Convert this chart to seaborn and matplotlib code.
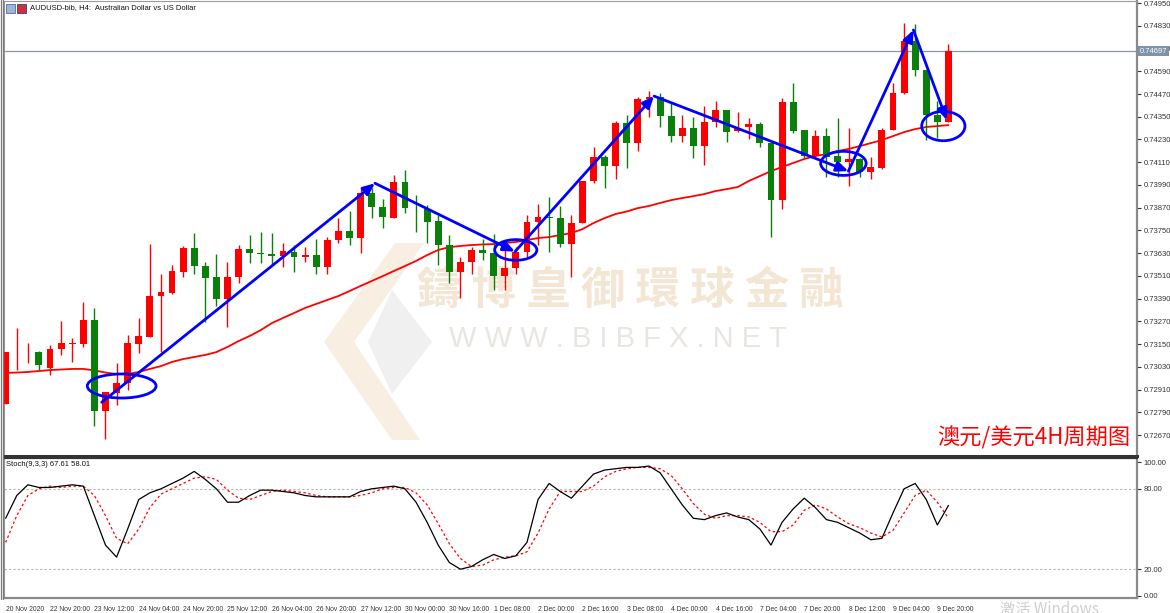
import matplotlib
matplotlib.use("Agg")
import matplotlib.pyplot as plt
import matplotlib.transforms as mtransforms
from matplotlib.patches import Ellipse, Polygon, Rectangle
from matplotlib.lines import Line2D
import numpy as np
import seaborn as sns

# AUDUSD H4 candles (oldest first)
opens = [
    0.72834, 0.73108, 0.73108, 0.73110, 0.73025, 0.73124, 0.73153, 0.73151, 0.73277, 0.72799,
    0.72894, 0.72946, 0.73151, 0.73189, 0.73405, 0.73421, 0.73532, 0.73659, 0.73564, 0.73506,
    0.73388, 0.73506, 0.73650, 0.73631, 0.73625, 0.73615, 0.73638, 0.73611, 0.73620, 0.73558,
    0.73699, 0.73747, 0.73708, 0.73949, 0.73875, 0.73814, 0.74004, 0.73865, 0.73863, 0.73800,
    0.73673, 0.73532, 0.73582, 0.73647, 0.73629, 0.73509, 0.73550, 0.73638, 0.73796, 0.73821,
    0.73817, 0.73678, 0.73791, 0.74011, 0.74136, 0.74090, 0.74318, 0.74213, 0.74442, 0.74452,
    0.74354, 0.74248, 0.74289, 0.74195, 0.74320, 0.74385, 0.74275, 0.74296, 0.74313, 0.74213,
    0.73910, 0.74426, 0.74280, 0.74144, 0.74250, 0.74144, 0.74113, 0.74127, 0.74057, 0.74081,
    0.74280, 0.74474, 0.74749, 0.74596, 0.74359, 0.74324]
highs = [
    0.73110, 0.73235, 0.73156, 0.73114, 0.73145, 0.73274, 0.73184, 0.73374, 0.73342, 0.72899,
    0.73050, 0.73198, 0.73286, 0.73677, 0.73520, 0.73567, 0.73668, 0.73735, 0.73585, 0.73625,
    0.73585, 0.73673, 0.73726, 0.73743, 0.73738, 0.73685, 0.73673, 0.73664, 0.73703, 0.73714,
    0.73814, 0.73854, 0.73972, 0.73972, 0.73914, 0.74042, 0.74069, 0.73937, 0.73884, 0.73831,
    0.73726, 0.73611, 0.73664, 0.73703, 0.73729, 0.73647, 0.73664, 0.73831, 0.73889, 0.73925,
    0.73879, 0.73831, 0.74011, 0.74189, 0.74148, 0.74329, 0.74359, 0.74456, 0.74487, 0.74474,
    0.74424, 0.74359, 0.74350, 0.74406, 0.74433, 0.74385, 0.74373, 0.74345, 0.74320, 0.74213,
    0.74450, 0.74526, 0.74280, 0.74280, 0.74289, 0.74345, 0.74289, 0.74134, 0.74139, 0.74289,
    0.74526, 0.74843, 0.74838, 0.74596, 0.74433, 0.74732]
lows = [
    0.72834, 0.73013, 0.73050, 0.73013, 0.72987, 0.73093, 0.73056, 0.73136, 0.72718, 0.72648,
    0.72829, 0.72908, 0.73105, 0.73187, 0.73110, 0.73413, 0.73506, 0.73520, 0.73268, 0.73353,
    0.73242, 0.73474, 0.73576, 0.73576, 0.73567, 0.73558, 0.73532, 0.73585, 0.73520, 0.73520,
    0.73685, 0.73673, 0.73632, 0.73814, 0.73761, 0.73814, 0.73843, 0.73743, 0.73685, 0.73567,
    0.73471, 0.73392, 0.73520, 0.73594, 0.73436, 0.73436, 0.73520, 0.73611, 0.73673, 0.73638,
    0.73664, 0.73506, 0.73787, 0.73999, 0.73972, 0.74020, 0.74081, 0.74171, 0.74350, 0.74294,
    0.74218, 0.74218, 0.74131, 0.74095, 0.74297, 0.74218, 0.74268, 0.74232, 0.74192, 0.73717,
    0.73863, 0.74262, 0.74131, 0.74134, 0.74033, 0.74033, 0.73986, 0.74033, 0.74021, 0.74074,
    0.74280, 0.74468, 0.74566, 0.74227, 0.74236, 0.74320]
closes = [
    0.73110, 0.73111, 0.73110, 0.73040, 0.73124, 0.73156, 0.73156, 0.73277, 0.72799, 0.72896,
    0.72946, 0.73154, 0.73193, 0.73405, 0.73425, 0.73536, 0.73659, 0.73564, 0.73500, 0.73388,
    0.73506, 0.73650, 0.73629, 0.73628, 0.73615, 0.73641, 0.73611, 0.73620, 0.73558, 0.73699,
    0.73747, 0.73708, 0.73949, 0.73875, 0.73822, 0.74004, 0.73867, 0.73862, 0.73796, 0.73673,
    0.73532, 0.73582, 0.73645, 0.73629, 0.73509, 0.73550, 0.73638, 0.73796, 0.73821, 0.73817,
    0.73678, 0.73791, 0.74011, 0.74136, 0.74090, 0.74318, 0.74213, 0.74442, 0.74452, 0.74354,
    0.74248, 0.74289, 0.74195, 0.74324, 0.74385, 0.74268, 0.74292, 0.74313, 0.74210, 0.73910,
    0.74426, 0.74275, 0.74144, 0.74250, 0.74139, 0.74113, 0.74127, 0.74060, 0.74083, 0.74280,
    0.74474, 0.74749, 0.74596, 0.74359, 0.74324, 0.74697]

# red moving average line
ma_line = [
    0.72998, 0.73000, 0.73003, 0.73008, 0.73013, 0.73016, 0.73019, 0.73019, 0.73011, 0.73000,
    0.72992, 0.72992, 0.73003, 0.73019, 0.73034, 0.73056, 0.73071, 0.73082, 0.73093, 0.73108,
    0.73135, 0.73166, 0.73193, 0.73224, 0.73261, 0.73288, 0.73314, 0.73341, 0.73362, 0.73383,
    0.73404, 0.73430, 0.73457, 0.73483, 0.73509, 0.73536, 0.73562, 0.73589, 0.73620, 0.73647,
    0.73662, 0.73668, 0.73673, 0.73676, 0.73678, 0.73684, 0.73689, 0.73699, 0.73710, 0.73715,
    0.73726, 0.73736, 0.73757, 0.73789, 0.73815, 0.73837, 0.73850, 0.73868, 0.73879, 0.73895,
    0.73910, 0.73921, 0.73931, 0.73942, 0.73958, 0.73968, 0.73979, 0.74011, 0.74037, 0.74063,
    0.74085, 0.74106, 0.74127, 0.74143, 0.74153, 0.74169, 0.74180, 0.74195, 0.74211, 0.74227,
    0.74248, 0.74269, 0.74285, 0.74296, 0.74301, 0.74306]

# Stoch(9,3,3) main (%K) and signal (%D)
stoch_k = [
    58, 75, 83, 81, 81, 82, 83, 82, 60, 38,
    29, 50, 72, 77, 80, 84, 88, 93, 87, 80,
    70, 70, 75, 79, 79, 78, 77, 75, 74, 74,
    74, 74, 78, 80, 81, 82, 80, 70, 55, 38,
    25, 20, 22, 27, 31, 28, 30, 40, 72, 84,
    78, 73, 82, 91, 94, 95, 96, 96, 97, 92,
    80, 68, 58, 57, 60, 62, 59, 57, 50, 38,
    55, 65, 73, 66, 57, 55, 51, 47, 42, 43,
    62, 80, 84, 72, 53, 67.61]
stoch_d = [
    40, 60, 75, 80, 82, 81, 82, 82, 75, 60,
    43, 39, 50, 66, 76, 80, 84, 88, 89, 87,
    79, 73, 72, 75, 78, 79, 78, 77, 75, 74,
    74, 74, 75, 77, 80, 81, 81, 77, 68, 54,
    39, 28, 22, 23, 27, 29, 30, 33, 47, 65,
    78, 78, 78, 82, 89, 93, 95, 96, 96, 95,
    90, 80, 69, 61, 58, 60, 60, 59, 55, 48,
    48, 53, 64, 68, 65, 59, 54, 51, 47, 44,
    49, 62, 75, 79, 70, 58.01]

time_labels = ["20 Nov 2020", "22 Nov 20:00", "23 Nov 12:00", "24 Nov 04:00", "24 Nov 20:00",
               "25 Nov 12:00", "26 Nov 04:00", "26 Nov 20:00", "27 Nov 12:00", "30 Nov 00:00",
               "30 Nov 16:00", "1 Dec 08:00", "2 Dec 00:00", "2 Dec 16:00", "3 Dec 08:00",
               "4 Dec 00:00", "4 Dec 16:00", "7 Dec 04:00", "7 Dec 20:00", "8 Dec 12:00",
               "9 Dec 04:00", "9 Dec 20:00"]
price_ticks = [0.74950, 0.74830, 0.74710, 0.74590, 0.74470, 0.74350, 0.74230, 0.74110,
               0.73990, 0.73870, 0.73750, 0.73630, 0.73510, 0.73390, 0.73270, 0.73150,
               0.73030, 0.72910, 0.72790, 0.72670]
stoch_ticks = [0, 20, 80, 100]

# hand-drawn blue arrows (bar index, price) and circles (centre, width in bars, height in price)
arrow_bars = [8.66, 33.3, 45.92, 58.46, 75.98, 81.84, 84.85]
arrow_prices = [0.72843, 0.73999, 0.73638, 0.74459, 0.74063, 0.74808, 0.74333]
circle_bars = [10.46, 45.99, 75.53, 84.54]
circle_prices = [0.72929, 0.73647, 0.74104, 0.74301]
circle_widths = [6.2, 3.8, 4.1, 3.9]
circle_heights = [0.00127, 0.00109, 0.00127, 0.00155]

UP = "#ff0000"
DOWN = "#0a800a"
W, H = 1170, 613


def px_axes(x, y):
    """Pixel position in the main pane -> axes fraction."""
    return (x - 4) / 1133, 1 - (y - 1) / 455


def draw_watermark(ax):
    tan = "#f8eee2"
    grey = "#f0f0f0"
    chevron = [px_axes(*p) for p in [(395, 243), (424, 243), (354, 342), (420, 440), (392, 440), (324, 342)]]
    diamond = [px_axes(*p) for p in [(392, 290), (432, 342), (392, 394), (368, 342)]]
    ax.add_patch(Polygon(chevron, closed=True, transform=ax.transAxes, facecolor=tan, edgecolor="none", zorder=0))
    ax.add_patch(Polygon(diamond, closed=True, transform=ax.transAxes, facecolor=grey, edgecolor="none", zorder=0))
    x, y = px_axes(630, 291)
    ax.text(x, y, "鑄 博 皇 御 環 球 金 融", transform=ax.transAxes, ha="center", va="center",
            fontsize=32, fontweight="bold", color="#f4e6d4",
            family=["Noto Sans CJK TC", "DejaVu Sans"], zorder=0)
    x, y = px_axes(618, 339)
    ax.text(x, y, "W W W . B I B F X . N E T", transform=ax.transAxes, ha="center", va="center",
            fontsize=21, color="#e9e6e2", zorder=0)


def draw_candles(ax):
    idx = np.arange(len(opens))
    o = np.array(opens)
    c = np.array(closes)
    cols = [UP if cc >= oo else DOWN for oo, cc in zip(o, c)]
    ax.vlines(idx, lows, highs, colors=cols, linewidth=1, zorder=3)
    body = np.maximum(np.abs(c - o), 0.00003)
    ax.bar(idx, body, bottom=np.minimum(o, c), width=0.62, color=cols, linewidth=0, zorder=3)


def draw_annotations(ax):
    for i in range(len(arrow_bars) - 1):
        ax.annotate("", xy=(arrow_bars[i + 1], arrow_prices[i + 1]),
                    xytext=(arrow_bars[i], arrow_prices[i]),
                    arrowprops=dict(arrowstyle="-|>,head_length=0.7,head_width=0.3",
                                    color="#0000ff", lw=2, shrinkA=0, shrinkB=0),
                    zorder=5)
    for cx, cy, w, h in zip(circle_bars, circle_prices, circle_widths, circle_heights):
        ax.add_patch(Ellipse((cx, cy), w, h, fill=False, edgecolor="#0000ff", lw=2, zorder=5))


def main():
    sns.set_style("white")
    plt.rcParams["font.family"] = ["Liberation Sans", "DejaVu Sans"]

    fig = plt.figure(figsize=(W / 100, H / 100), dpi=100)
    ax = fig.add_axes([4 / W, (H - 456) / H, 1133 / W, 455 / H])
    ax2 = fig.add_axes([4 / W, (H - 598) / H, 1133 / W, 140 / H], sharex=ax)

    idx = np.arange(len(opens))

    # --- price pane ---
    draw_watermark(ax)
    sns.lineplot(x=idx, y=ma_line, ax=ax, color="#ff0000", linewidth=1.3, zorder=2)
    draw_candles(ax)
    last = closes[-1]
    ax.axhline(last, color="#8c96a0", linewidth=0.9, zorder=1)
    draw_annotations(ax)

    ax.set_xlim(-0.15, 102.0)
    ax.set_ylim(0.725595, 0.74961)
    ax.yaxis.tick_right()
    ax.set_yticks(price_ticks)
    ax.set_yticklabels([f"{p:.5f}" for p in price_ticks])
    ax.tick_params(axis="y", direction="out", length=3, width=0.8, colors="#333333",
                   labelsize=5.5, pad=1.5)
    ax.tick_params(axis="x", bottom=False, labelbottom=False)
    trans = mtransforms.blended_transform_factory(ax.transAxes, ax.transData)
    ax.text(1.0025, last, f"{last:.5f}", transform=trans, ha="left", va="center",
            fontsize=5.5, color="white",
            bbox=dict(facecolor="#7f93a8", edgecolor="none", pad=1.0), zorder=6)

    ax.text(*px_axes(30, 8), "AUDUSD-bib, H4:  Australian Dollar vs US Dollar",
            transform=ax.transAxes, ha="left", va="center", fontsize=5.5, color="#111111")
    ax.text(*px_axes(1130, 438), "澳元/美元4H周期图", transform=ax.transAxes, ha="right",
            va="center", fontsize=16, color="#ff0000", family=["Noto Sans CJK SC", "DejaVu Sans"])

    for side in ["top", "left"]:
        ax.spines[side].set_color("#9a9a9a")
        ax.spines[side].set_linewidth(0.8)
    ax.spines["right"].set_color("#8a8a8a")
    ax.spines["right"].set_linewidth(1.6)
    ax.spines["bottom"].set_color("#333333")
    ax.spines["bottom"].set_linewidth(2.2)

    # --- stochastic pane ---
    for lvl in [20, 80]:
        ax2.axhline(lvl, color="#b4b4b4", linewidth=0.8, linestyle=(0, (2, 2)), zorder=1)
    sns.lineplot(x=idx, y=stoch_k, ax=ax2, color="black", linewidth=0.9, zorder=3)
    sns.lineplot(x=idx, y=stoch_d, ax=ax2, color="#ff0000", linewidth=0.9,
                 linestyle=(0, (2, 2)), zorder=2)
    ax2.set_ylim(-1.5, 103)
    ax2.yaxis.tick_right()
    ax2.set_yticks(stoch_ticks)
    ax2.set_yticklabels([f"{v:.2f}" for v in stoch_ticks])
    ax2.tick_params(axis="y", direction="out", length=3, width=0.8, colors="#333333",
                    labelsize=5.5, pad=1.5)
    ax2.set_xticks(np.arange(0, 4 * len(time_labels), 4))
    ax2.set_xticklabels(time_labels)
    ax2.tick_params(axis="x", direction="out", length=5, width=0.8, colors="#333333",
                    labelsize=4.9, pad=0.8)
    for lab in ax2.get_xticklabels():
        lab.set_horizontalalignment("left")
    ax2.text(0.002, 0.95, "Stoch(9,3,3) 67.61 58.01", transform=ax2.transAxes,
             ha="left", va="center", fontsize=5.5, color="#111111")
    ax2.spines["top"].set_color("#333333")
    ax2.spines["top"].set_linewidth(1.6)
    ax2.spines["left"].set_color("#9a9a9a")
    ax2.spines["left"].set_linewidth(0.8)
    for side in ["right", "bottom"]:
        ax2.spines[side].set_color("#8a8a8a")
        ax2.spines[side].set_linewidth(1.6)
    ax2.set_xlabel("")
    ax2.set_ylabel("")
    ax.set_xlabel("")
    ax.set_ylabel("")

    # window frame: double border on the left, header icons
    for xp in [0.8, 3.0]:
        fig.add_artist(Line2D([xp / W, xp / W], [(H - 599) / H, 1], transform=fig.transFigure,
                              color="#7a7a7a", linewidth=0.9))
    fig.add_artist(Rectangle((6 / W, (H - 13) / H), 9 / W, 9 / H, transform=fig.transFigure,
                             facecolor="#9fb4d8", edgecolor="#4f6fa8", linewidth=0.6))
    fig.add_artist(Rectangle((17 / W, (H - 13) / H), 9 / W, 9 / H, transform=fig.transFigure,
                             facecolor="#d33030", edgecolor="#2040a0", linewidth=0.6))
    fig.text(1000 / W, (H - 601) / H, "激活 Windows", ha="left", va="top", fontsize=11,
             color="#cfcfcf", family=["Noto Sans CJK SC", "DejaVu Sans"])

    fig.savefig("out.png", dpi=100, facecolor="white")


if __name__ == "__main__":
    main()
